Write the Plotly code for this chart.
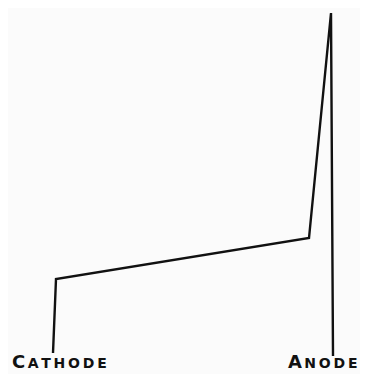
import plotly.graph_objects as go

# Potential profile between cathode and anode (diagram units)
position = [53, 56, 309, 331, 333]
potential = [29, 103, 144, 369, 26]
labels = ["Cathode", "Anode"]
label_x = [10, 360]

fig = go.Figure()
fig.add_trace(go.Scatter(
    x=position, y=potential, mode="lines",
    line=dict(color="#111111", width=2.4),
    hoverinfo="skip", showlegend=False,
))

SP = "\u2009"

def smallcaps(word, big, small):
    rest = SP.join(word[1:].upper())
    return (f"<span style='font-size:{big}px'>{word[0].upper()}</span>{SP}"
            f"<span style='font-size:{small}px'>{rest}</span>")

for lab, lx, anchor in zip(labels, label_x, ["left", "right"]):
    fig.add_annotation(x=lx, y=8, xanchor=anchor, yanchor="bottom",
                       text=smallcaps(lab, 18, 14), showarrow=False,
                       font=dict(family="DejaVu Sans", color="#111111",
                                 weight="bold"))

# page body has an 8px margin: figure covers page pixels 8..360 x 8..374
fig.update_layout(
    width=352, height=366,
    margin=dict(l=0, r=0, t=0, b=0),
    paper_bgcolor="#fbfbfb", plot_bgcolor="#fbfbfb",
    xaxis=dict(range=[8, 360], visible=False, fixedrange=True),
    yaxis=dict(range=[8, 374], visible=False, fixedrange=True),
)
fig.write_html("out.html")
